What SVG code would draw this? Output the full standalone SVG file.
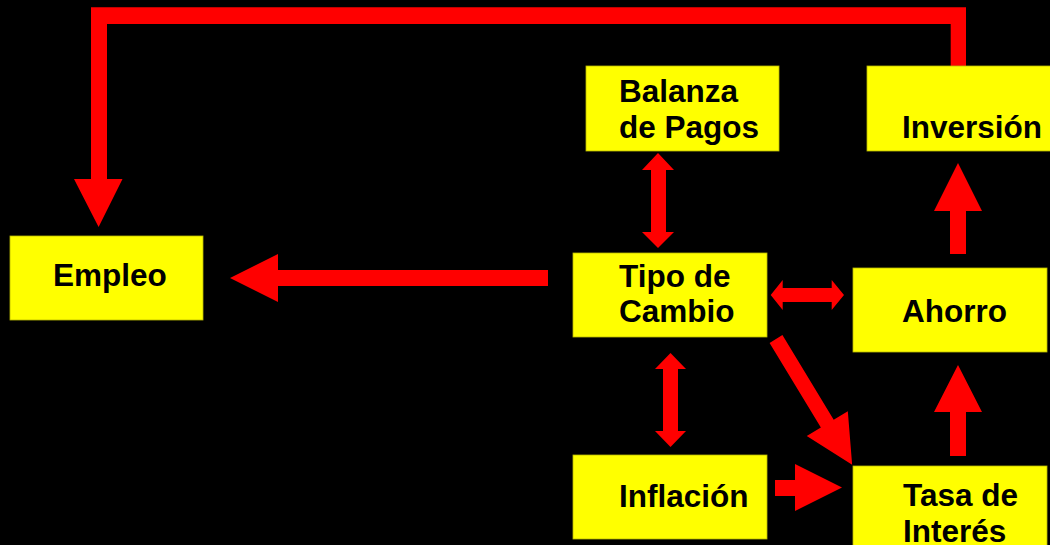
<svg xmlns="http://www.w3.org/2000/svg" width="1050" height="545" viewBox="0 0 1050 545">
<style>
.box{fill:#FFFF00;stroke:#B8B800;stroke-width:0.8}
.t{font-family:"Liberation Sans",Arial,sans-serif;font-weight:bold;font-size:31.5px;fill:#000}
.c{fill:#FF0000}
</style>
<rect width="1050" height="545" fill="#000"/>
<g id="connectors">
<polygon class="c" points="950.7,66 950.7,24 107,24 107,179 122.5,179 98.6,227 74,179 91,179 91,7.3 966,7.3 966,66"/>
<polygon class="c" points="548,270 278,270 278,254 230,278 278,302 278,286 548,286"/>
<polygon class="c" points="658,153 674,170 666,170 666,232 674,232 658,248 642,232 651,232 651,170 642,170"/>
<polygon class="c" points="670.5,353 686,369 678,369 678,431 686,431 670.5,447 655,431 663,431 663,369 655,369"/>
<polygon class="c" points="770.7,295 782.7,280 782.7,288 831.7,288 831.7,280 844,295 831.7,310 831.7,302 782.7,302 782.7,310"/>
<polygon class="c" points="950,254 950,211 934,211 958,163 982,211 966,211 966,254"/>
<polygon class="c" points="950,456 950,412 934,412 958,365 982,412 966,412 966,456"/>
<polygon class="c" points="775,480 795,480 795,464 842,487.5 795,511 795,496 775,496"/>
<polygon class="c" transform="translate(776,339) rotate(58.8)" points="0,-7.5 99,-7.5 99,-24 147,0 99,24 99,7.5 0,7.5"/>
</g>
<g id="empleo">
<rect class="box" x="10" y="236" width="193" height="84"/>
<text class="t" x="53" y="286">Empleo</text>
</g>
<g id="balanza">
<rect class="box" x="586" y="66" width="193" height="85"/>
<text class="t" x="619" y="102">Balanza</text>
<text class="t" x="619" y="138">de Pagos</text>
</g>
<g id="inversion">
<rect class="box" x="867" y="66" width="193" height="85"/>
<text class="t" x="902" y="138">Inversión</text>
</g>
<g id="tipo">
<rect class="box" x="573" y="253" width="194" height="84"/>
<text class="t" x="619" y="287">Tipo de</text>
<text class="t" x="619" y="322">Cambio</text>
</g>
<g id="ahorro">
<rect class="box" x="853" y="268" width="194" height="84"/>
<text class="t" x="902" y="322">Ahorro</text>
</g>
<g id="inflacion">
<rect class="box" x="573" y="455" width="194" height="84"/>
<text class="t" x="619" y="507">Inflación</text>
</g>
<g id="tasa">
<rect class="box" x="853" y="466" width="194" height="90"/>
<text class="t" x="903" y="506">Tasa de</text>
<text class="t" x="903" y="542">Interés</text>
</g>
</svg>
